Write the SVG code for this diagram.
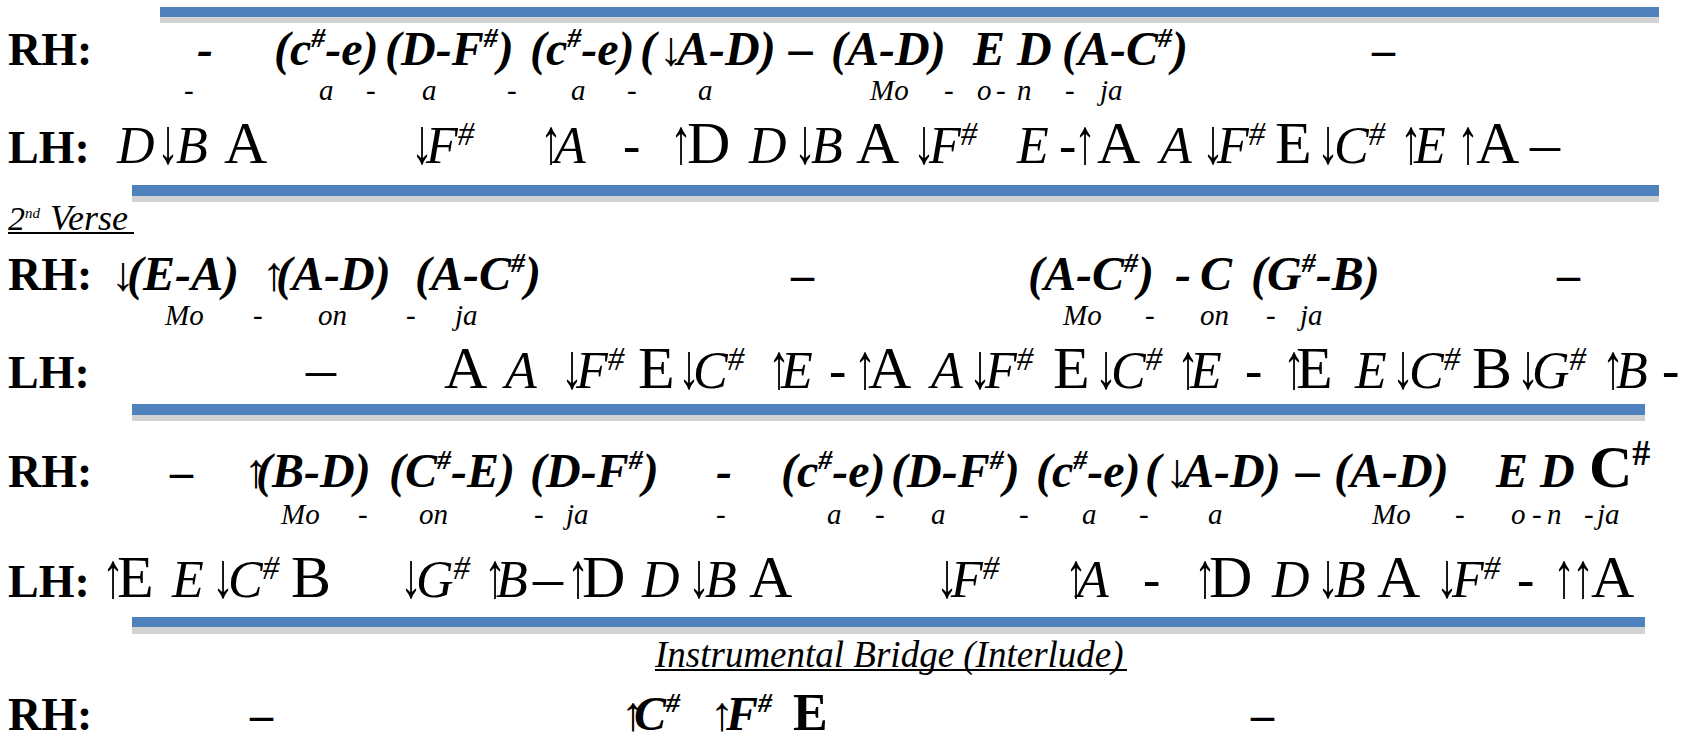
<svg xmlns="http://www.w3.org/2000/svg" width="1692" height="736" viewBox="0 0 1692 736">
<style>
text{fill:#000;font-family:"Liberation Serif","Times New Roman",serif}
.lbl{font-weight:bold;font-size:46px}
.ch{font-weight:bold;font-style:italic;font-size:48px}
.ly{font-style:italic;font-size:29px}
.it{font-style:italic;font-size:52px}
.up{font-size:60px}
.ar{font-style:italic;font-size:64px}
.s{font-size:28px}
.s2{font-size:33px}
.bl{fill:#4F81BD}
.gr{fill:#D2D2D2}
</style>
<rect width="1692" height="736" fill="#fff"/>
<g id="bars">
<rect class="gr" x="160" y="17" width="1499" height="6"/><rect class="bl" x="160" y="7" width="1499" height="10"/>
<rect class="gr" x="132" y="196" width="1527" height="6"/><rect class="bl" x="132" y="185" width="1527" height="11"/>
<rect class="gr" x="132" y="415" width="1513" height="6"/><rect class="bl" x="132" y="404" width="1513" height="11"/>
<rect class="gr" x="132" y="627" width="1513" height="7"/><rect class="bl" x="132" y="617" width="1513" height="10"/>
</g>
<g id="row1-rh">
<text class="lbl" x="8" y="65">RH:</text>
<text class="ch" x="197" y="65">-</text>
<text class="ch" x="274" y="65">(c<tspan class="s" dy="-18">#</tspan><tspan dy="18">-e)</tspan></text>
<text class="ch" x="385" y="65">(D-F<tspan class="s" dy="-18">#</tspan><tspan dy="18">)</tspan></text>
<text class="ch" x="530" y="65">(c<tspan class="s" dy="-18">#</tspan><tspan dy="18">-e)</tspan></text>
<text class="ch" x="640" y="65">(</text><text class="ch" x="659" y="65">↓</text><text class="ch" x="677" y="65">A-D)</text>
<text class="ch" x="789" y="65">–</text>
<text class="ch" x="831" y="65">(A-D)</text>
<text class="ch" x="973" y="65">E D</text>
<text class="ch" x="1062" y="65">(A-C<tspan class="s" dy="-18">#</tspan><tspan dy="18">)</tspan></text>
<text class="lbl" x="1372" y="65">–</text>
</g>
<g id="row1-lyrics">
<text class="ly" x="184" y="100">-</text><text class="ly" x="319" y="100">a</text><text class="ly" x="366" y="100">-</text><text class="ly" x="422" y="100">a</text><text class="ly" x="507" y="100">-</text><text class="ly" x="571" y="100">a</text><text class="ly" x="627" y="100">-</text><text class="ly" x="698" y="100">a</text><text class="ly" x="870" y="100">Mo</text><text class="ly" x="944" y="100">-</text><text class="ly" x="977" y="100">o</text><text class="ly" x="996" y="100">-</text><text class="ly" x="1017" y="100">n</text><text class="ly" x="1065" y="100">-</text><text class="ly" x="1100" y="100">ja</text>
</g>
<g id="row1-lh">
<text class="lbl" x="8" y="163">LH:</text>
<text class="it" x="117" y="163">D</text><text class="ar" transform="translate(157,163) scale(0.68,1)">↓</text><text class="it" x="176" y="163">B</text><text class="up" x="224" y="163">A</text>
<text class="ar" transform="translate(411,163) scale(0.68,1)">↓</text><text class="it" x="426" y="163">F<tspan class="s2" dy="-18">#</tspan></text>
<text class="ar" transform="translate(540,163) scale(0.68,1)">↑</text><text class="it" x="554" y="163">A</text><text class="it" x="623" y="163">-</text>
<text class="ar" transform="translate(670,163) scale(0.68,1)">↑</text><text class="up" x="687" y="163">D</text><text class="it" x="749" y="163">D</text><text class="ar" transform="translate(794,163) scale(0.68,1)">↓</text><text class="it" x="811" y="163">B</text><text class="up" x="856" y="163">A</text>
<text class="ar" transform="translate(913,163) scale(0.68,1)">↓</text><text class="it" x="929" y="163">F<tspan class="s2" dy="-18">#</tspan></text>
<text class="it" x="1017" y="163">E</text><text class="it" x="1059" y="163">-</text><text class="ar" transform="translate(1074,163) scale(0.68,1)">↑</text><text class="up" x="1097" y="163">A</text>
<text class="it" x="1160" y="163">A</text><text class="ar" transform="translate(1202,163) scale(0.68,1)">↓</text><text class="it" x="1217" y="163">F<tspan class="s2" dy="-18">#</tspan></text>
<text class="up" x="1275" y="163">E</text><text class="ar" transform="translate(1317,163) scale(0.68,1)">↓</text><text class="it" x="1334" y="163">C<tspan class="s2" dy="-18">#</tspan></text>
<text class="ar" transform="translate(1400,163) scale(0.68,1)">↑</text><text class="it" x="1414" y="163">E</text><text class="ar" transform="translate(1457,163) scale(0.68,1)">↑</text><text class="up" x="1476" y="163">A</text><text class="up" x="1530" y="163">–</text>
</g>
<g id="verse2-title">
<text x="8" y="230" style="font-style:italic;font-size:34px">2<tspan dy="-12" font-size="15">nd</tspan></text>
<text x="50" y="230" style="font-style:italic;font-size:36px">Verse</text>
<rect x="8" y="232" width="126" height="2" fill="#000"/>
</g>
<g id="row2-rh">
<text class="lbl" x="8" y="290">RH:</text>
<text class="ch" x="111" y="290">↓</text><text class="ch" x="127" y="290">(E-A)</text>
<text class="ch" x="262" y="290">↑</text><text class="ch" x="276" y="290">(A-D)</text>
<text class="ch" x="415" y="290">(A-C<tspan class="s" dy="-18">#</tspan><tspan dy="18">)</tspan></text>
<text class="lbl" x="791" y="290">–</text>
<text class="ch" x="1028" y="290">(A-C<tspan class="s" dy="-18">#</tspan><tspan dy="18">)</tspan></text>
<text class="ch" x="1175" y="290">-</text><text class="ch" x="1200" y="290">C</text>
<text class="ch" x="1251" y="290">(G<tspan class="s" dy="-18">#</tspan><tspan dy="18">-B)</tspan></text>
<text class="lbl" x="1557" y="290">–</text>
</g>
<g id="row2-lyrics">
<text class="ly" x="165" y="325">Mo</text><text class="ly" x="253" y="325">-</text><text class="ly" x="318" y="325">on</text><text class="ly" x="406" y="325">-</text><text class="ly" x="455" y="325">ja</text>
<text class="ly" x="1063" y="325">Mo</text><text class="ly" x="1145" y="325">-</text><text class="ly" x="1200" y="325">on</text><text class="ly" x="1266" y="325">-</text><text class="ly" x="1300" y="325">ja</text>
</g>
<g id="row2-lh">
<text class="lbl" x="8" y="388">LH:</text>
<text class="up" x="306" y="388">–</text>
<text class="up" x="444" y="388">A</text><text class="it" x="505" y="388">A</text><text class="ar" transform="translate(561,388) scale(0.68,1)">↓</text><text class="it" x="576" y="388">F<tspan class="s2" dy="-18">#</tspan></text>
<text class="up" x="638" y="388">E</text><text class="ar" transform="translate(678,388) scale(0.68,1)">↓</text><text class="it" x="693" y="388">C<tspan class="s2" dy="-18">#</tspan></text>
<text class="ar" transform="translate(768,388) scale(0.68,1)">↑</text><text class="it" x="781" y="388">E</text><text class="it" x="829" y="388">-</text><text class="ar" transform="translate(854,388) scale(0.68,1)">↑</text><text class="up" x="868" y="388">A</text>
<text class="it" x="931" y="388">A</text><text class="ar" transform="translate(969,388) scale(0.68,1)">↓</text><text class="it" x="985" y="388">F<tspan class="s2" dy="-18">#</tspan></text>
<text class="up" x="1053" y="388">E</text><text class="ar" transform="translate(1095,388) scale(0.68,1)">↓</text><text class="it" x="1111" y="388">C<tspan class="s2" dy="-18">#</tspan></text>
<text class="ar" transform="translate(1177,388) scale(0.68,1)">↑</text><text class="it" x="1190" y="388">E</text><text class="it" x="1245" y="388">-</text>
<text class="ar" transform="translate(1283,388) scale(0.68,1)">↑</text><text class="up" x="1296" y="388">E</text><text class="it" x="1355" y="388">E</text><text class="ar" transform="translate(1392,388) scale(0.68,1)">↓</text><text class="it" x="1409" y="388">C<tspan class="s2" dy="-18">#</tspan></text>
<text class="up" x="1472" y="388">B</text><text class="ar" transform="translate(1517,388) scale(0.68,1)">↓</text><text class="it" x="1532" y="388">G<tspan class="s2" dy="-18">#</tspan></text>
<text class="ar" transform="translate(1602,388) scale(0.68,1)">↑</text><text class="it" x="1616" y="388">B</text><text class="it" x="1662" y="388">-</text>
</g>
<g id="row3-rh">
<text class="lbl" x="8" y="487">RH:</text>
<text class="lbl" x="170" y="487">–</text>
<text class="ch" x="244" y="487">↑</text><text class="ch" x="256" y="487">(B-D)</text>
<text class="ch" x="389" y="487">(C<tspan class="s" dy="-18">#</tspan><tspan dy="18">-E)</tspan></text>
<text class="ch" x="530" y="487">(D-F<tspan class="s" dy="-18">#</tspan><tspan dy="18">)</tspan></text>
<text class="ch" x="716" y="487">-</text>
<text class="ch" x="781" y="487">(c<tspan class="s" dy="-18">#</tspan><tspan dy="18">-e)</tspan></text>
<text class="ch" x="891" y="487">(D-F<tspan class="s" dy="-18">#</tspan><tspan dy="18">)</tspan></text>
<text class="ch" x="1036" y="487">(c<tspan class="s" dy="-18">#</tspan><tspan dy="18">-e)</tspan></text>
<text class="ch" x="1145" y="487">(</text><text class="ch" x="1165" y="487">↓</text><text class="ch" x="1182" y="487">A-D)</text>
<text class="ch" x="1296" y="487">–</text>
<text class="ch" x="1334" y="487">(A-D)</text>
<text class="ch" x="1496" y="487">E D</text>
<text x="1589" y="487" style="font-weight:bold;font-size:60px">C<tspan font-size="36" dy="-22">#</tspan></text>
</g>
<g id="row3-lyrics">
<text class="ly" x="281" y="524">Mo</text><text class="ly" x="358" y="524">-</text><text class="ly" x="419" y="524">on</text><text class="ly" x="534" y="524">-</text><text class="ly" x="566" y="524">ja</text>
<text class="ly" x="716" y="524">-</text><text class="ly" x="827" y="524">a</text><text class="ly" x="875" y="524">-</text><text class="ly" x="931" y="524">a</text><text class="ly" x="1019" y="524">-</text><text class="ly" x="1082" y="524">a</text><text class="ly" x="1139" y="524">-</text><text class="ly" x="1208" y="524">a</text>
<text class="ly" x="1372" y="524">Mo</text><text class="ly" x="1455" y="524">-</text><text class="ly" x="1511" y="524">o</text><text class="ly" x="1532" y="524">-</text><text class="ly" x="1547" y="524">n</text><text class="ly" x="1584" y="524">-</text><text class="ly" x="1597" y="524">ja</text>
</g>
<g id="row3-lh">
<text class="lbl" x="8" y="597">LH:</text>
<text class="ar" transform="translate(102,597) scale(0.68,1)">↑</text><text class="up" x="117" y="597">E</text><text class="it" x="172" y="597">E</text><text class="ar" transform="translate(212,597) scale(0.68,1)">↓</text><text class="it" x="228" y="597">C<tspan class="s2" dy="-18">#</tspan></text><text class="up" x="291" y="597">B</text>
<text class="ar" transform="translate(400,597) scale(0.68,1)">↓</text><text class="it" x="416" y="597">G<tspan class="s2" dy="-18">#</tspan></text><text class="ar" transform="translate(484,597) scale(0.68,1)">↑</text><text class="it" x="496" y="597">B</text><text class="up" x="533" y="597">–</text>
<text class="ar" transform="translate(567,597) scale(0.68,1)">↑</text><text class="up" x="582" y="597">D</text><text class="it" x="642" y="597">D</text><text class="ar" transform="translate(688,597) scale(0.68,1)">↓</text><text class="it" x="705" y="597">B</text><text class="up" x="749" y="597">A</text>
<text class="ar" transform="translate(936,597) scale(0.68,1)">↓</text><text class="it" x="951" y="597">F<tspan class="s2" dy="-18">#</tspan></text>
<text class="ar" transform="translate(1065,597) scale(0.68,1)">↑</text><text class="it" x="1077" y="597">A</text><text class="it" x="1143" y="597">-</text>
<text class="ar" transform="translate(1194,597) scale(0.68,1)">↑</text><text class="up" x="1209" y="597">D</text><text class="it" x="1272" y="597">D</text><text class="ar" transform="translate(1317,597) scale(0.68,1)">↓</text><text class="it" x="1334" y="597">B</text><text class="up" x="1377" y="597">A</text>
<text class="ar" transform="translate(1436,597) scale(0.68,1)">↓</text><text class="it" x="1452" y="597">F<tspan class="s2" dy="-18">#</tspan></text><text class="it" x="1517" y="597">-</text>
<text class="ar" transform="translate(1553,597) scale(0.68,1)">↑</text><text class="ar" transform="translate(1572,597) scale(0.68,1)">↑</text><text class="up" x="1591" y="597">A</text>
</g>
<g id="bridge-title">
<text x="655" y="667" style="font-style:italic;font-size:37px">Instrumental Bridge (Interlude)</text>
<rect x="655" y="669" width="472" height="2" fill="#000"/>
</g>
<g id="row4-rh">
<text class="lbl" x="8" y="730">RH:</text>
<text class="lbl" x="250" y="730">–</text>
<text class="ch" x="621" y="730">↑</text><text class="ch" x="634" y="730">C<tspan class="s" dy="-18">#</tspan></text>
<text class="ch" x="710" y="730">↑</text><text class="ch" x="726" y="730">F<tspan class="s" dy="-18">#</tspan></text>
<text x="793" y="730" style="font-weight:bold;font-size:52px">E</text>
<text class="lbl" x="1251" y="730">–</text>
</g>
</svg>
